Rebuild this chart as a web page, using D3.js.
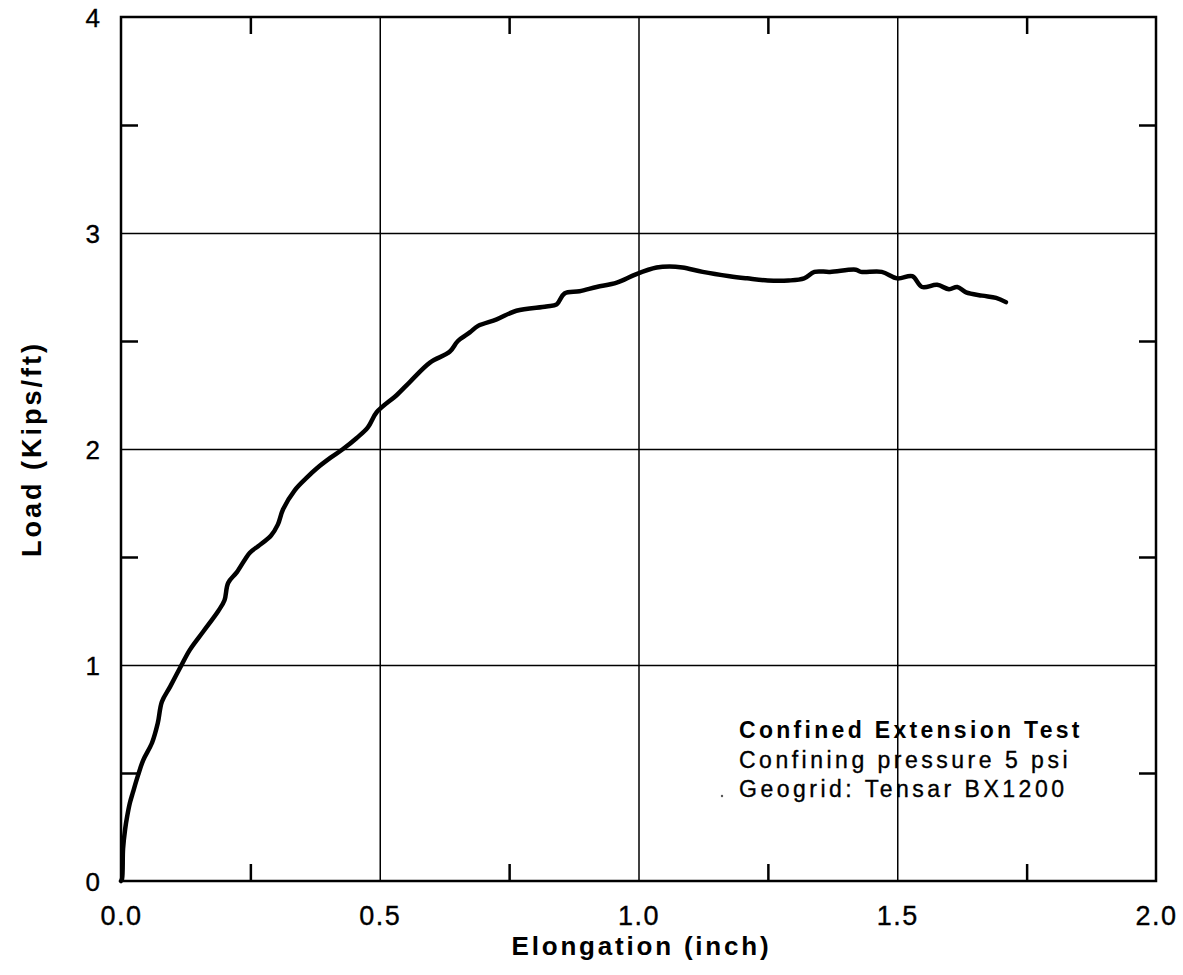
<!DOCTYPE html>
<html>
<head>
<meta charset="utf-8">
<script src="https://cdn.jsdelivr.net/npm/d3@7"></script>
<style>
  html, body { margin: 0; padding: 0; background: #fff; }
  svg { display: block; }
  text { font-family: "Liberation Sans", Arial, Helvetica, sans-serif; fill: #000; }
  .heavy { stroke: #000; stroke-width: 0.35px; }
</style>
</head>
<body>
<svg id="chart" width="1183" height="975"></svg>
<script>
// Load–elongation record, confined extension test
const elongation = [0, 0.002, 0.004, 0.008, 0.012, 0.017, 0.023, 0.033, 0.043, 0.06, 0.071, 0.079,
  0.095, 0.117, 0.133, 0.159, 0.188, 0.2, 0.207, 0.224, 0.249, 0.265, 0.29, 0.303, 0.313, 0.336,
  0.36, 0.378, 0.405, 0.429, 0.455, 0.477, 0.494, 0.533, 0.558, 0.597, 0.635, 0.651, 0.674, 0.69,
  0.726, 0.764, 0.822, 0.842, 0.857, 0.886, 0.919, 0.958, 0.996, 1.035, 1.06, 1.085, 1.124, 1.176,
  1.21, 1.25, 1.29, 1.32, 1.34, 1.37, 1.42, 1.43, 1.47, 1.5, 1.529, 1.548, 1.577, 1.6, 1.616,
  1.633, 1.664, 1.691, 1.71];
const load = [0, 0.01, 0.15, 0.24, 0.30, 0.36, 0.41, 0.49, 0.56, 0.64, 0.73, 0.83,
  0.90, 1.0, 1.07, 1.155, 1.25, 1.30, 1.38, 1.43, 1.52, 1.55, 1.6, 1.65, 1.72, 1.81,
  1.87, 1.91, 1.96, 2.0, 2.05, 2.10, 2.17, 2.25, 2.31, 2.40, 2.45, 2.50, 2.54, 2.57,
  2.60, 2.64, 2.66, 2.67, 2.72, 2.73, 2.75, 2.77, 2.81, 2.84, 2.845, 2.84, 2.82, 2.80,
  2.79, 2.78, 2.78, 2.79, 2.82, 2.82, 2.83, 2.82, 2.82, 2.79, 2.80, 2.75, 2.76, 2.74, 2.75,
  2.725, 2.71, 2.70, 2.68];

const xMajor = [0, 0.5, 1.0, 1.5, 2.0];
const xMinor = [0.25, 0.75, 1.25, 1.75];
const yMajor = [0, 1, 2, 3, 4];
const yMinor = [0.5, 1.5, 2.5, 3.5];
const annotation = ["Confined Extension Test", "Confining pressure 5 psi", "Geogrid: Tensar BX1200"];

const margin = { left: 121, right: 27, top: 17, bottom: 94 };
const W = 1183, H = 975;
const iw = W - margin.left - margin.right;
const ih = H - margin.top - margin.bottom;

const svg = d3.select("#chart");
const g = svg.append("g").attr("transform", `translate(${margin.left},${margin.top})`);

const x = d3.scaleLinear().domain([0, 2]).range([0, iw]);
const y = d3.scaleLinear().domain([0, 4]).range([ih, 0]);

// Major grid lines
g.append("g")
  .attr("transform", `translate(0,${ih})`)
  .call(d3.axisBottom(x).tickValues(xMajor.slice(1, -1)).tickSize(-ih).tickFormat(""))
  .call(a => a.select(".domain").remove())
  .call(a => a.selectAll("line").attr("stroke", "#000").attr("stroke-width", 1.5));
g.append("g")
  .call(d3.axisLeft(y).tickValues(yMajor.slice(1, -1)).tickSize(-iw).tickFormat(""))
  .call(a => a.select(".domain").remove())
  .call(a => a.selectAll("line").attr("stroke", "#000").attr("stroke-width", 1.5));

// Inward minor ticks on all four sides
const tl = 17;
function minor(axis, transform) {
  g.append("g").attr("transform", transform)
    .call(axis.tickSize(tl).tickFormat(""))
    .call(a => a.select(".domain").remove())
    .call(a => a.selectAll("line").attr("stroke", "#000").attr("stroke-width", 2.5));
}
minor(d3.axisTop(x).tickValues(xMinor), `translate(0,${ih})`);
minor(d3.axisBottom(x).tickValues(xMinor), `translate(0,0)`);
minor(d3.axisRight(y).tickValues(yMinor), `translate(0,0)`);
minor(d3.axisLeft(y).tickValues(yMinor), `translate(${iw},0)`);

// Frame
g.append("rect").attr("x", 0).attr("y", 0).attr("width", iw).attr("height", ih)
  .attr("fill", "none").attr("stroke", "#000").attr("stroke-width", 2.5);

// Tick labels
const xl = g.append("g")
  .attr("transform", `translate(0,${ih})`)
  .call(d3.axisBottom(x).tickValues(xMajor).tickSize(0).tickPadding(0).tickFormat(d3.format(".1f")));
xl.select(".domain").remove();
xl.selectAll("text").attr("y", 44).attr("dy", null).attr("class", "heavy")
  .attr("font-size", 27).attr("letter-spacing", 1.5).attr("font-family", "Liberation Sans, Arial, sans-serif");

const yl = g.append("g")
  .call(d3.axisLeft(y).tickValues(yMajor).tickSize(0).tickPadding(0).tickFormat(d3.format("d")));
yl.select(".domain").remove();
yl.selectAll("text").attr("x", -21).attr("dy", "0.35em").attr("class", "heavy")
  .attr("font-size", 26).attr("font-family", "Liberation Sans, Arial, sans-serif");

// Load curve
const pts = elongation.map((e, i) => [e, load[i]]);
g.append("path").datum(pts)
  .attr("fill", "none").attr("stroke", "#000").attr("stroke-width", 4.5)
  .attr("stroke-linejoin", "round").attr("stroke-linecap", "round")
  .attr("d", d3.line().x(d => x(d[0])).y(d => y(d[1])).curve(d3.curveCatmullRom));

// Axis titles
svg.append("text")
  .attr("x", margin.left + iw / 2 + 3).attr("y", 955)
  .attr("text-anchor", "middle").attr("font-weight", "bold")
  .attr("font-size", 26).attr("letter-spacing", 2.8)
  .text("Elongation (inch)");
svg.append("text")
  .attr("transform", `translate(41,${margin.top + y(2)}) rotate(-90)`)
  .attr("text-anchor", "middle").attr("font-weight", "bold")
  .attr("font-size", 27).attr("letter-spacing", 3)
  .text("Load (Kips/ft)");

// Test description
const ann = svg.append("g").attr("transform", "translate(739,0)");
ann.selectAll("text").data(annotation).join("text")
  .attr("x", 0).attr("y", (d, i) => 738 + i * 29.5)
  .attr("font-size", 23).attr("letter-spacing", (d, i) => i === 0 ? 3.3 : 3.5)
  .attr("font-weight", (d, i) => i === 0 ? "bold" : "normal")
  .attr("class", (d, i) => i === 0 ? null : "heavy")
  .text(d => d);
svg.append("circle").attr("cx", 722).attr("cy", 796).attr("r", 1.2).attr("fill", "#555");
</script>
</body>
</html>
